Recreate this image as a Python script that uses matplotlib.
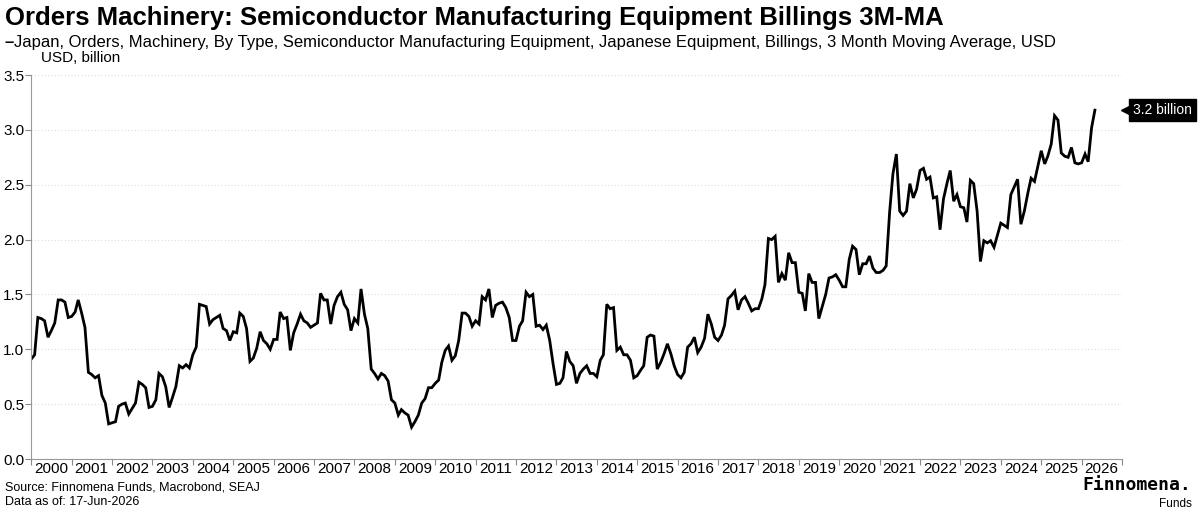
import numpy as np
import pandas as pd
import matplotlib
matplotlib.use("Agg")
from matplotlib import pyplot as plt
import matplotlib.dates as mdates
import matplotlib.transforms as mtransforms

plt.rcParams['font.family'] = ['Liberation Sans', 'DejaVu Sans']

# monthly 3M-MA billings, USD billion, Jan-2000 .. May-2026
v2000 = [0.91, 0.95, 1.29, 1.28, 1.26, 1.11, 1.17, 1.24, 1.45, 1.45, 1.43, 1.29]
v2001 = [1.30, 1.34, 1.45, 1.33, 1.20, 0.79, 0.77, 0.74, 0.76, 0.58, 0.51, 0.32]
v2002 = [0.33, 0.34, 0.48, 0.50, 0.51, 0.41, 0.46, 0.51, 0.70, 0.68, 0.65, 0.47]
v2003 = [0.48, 0.54, 0.78, 0.75, 0.66, 0.47, 0.56, 0.66, 0.85, 0.83, 0.86, 0.83]
v2004 = [0.95, 1.02, 1.41, 1.40, 1.39, 1.23, 1.27, 1.29, 1.31, 1.19, 1.17, 1.08]
v2005 = [1.16, 1.15, 1.33, 1.30, 1.19, 0.89, 0.92, 1.01, 1.16, 1.08, 1.05, 1.00]
v2006 = [1.09, 1.09, 1.34, 1.28, 1.29, 0.99, 1.15, 1.23, 1.32, 1.26, 1.24, 1.20]
v2007 = [1.22, 1.24, 1.51, 1.45, 1.45, 1.23, 1.40, 1.48, 1.52, 1.41, 1.36, 1.17]
v2008 = [1.28, 1.24, 1.55, 1.32, 1.19, 0.82, 0.78, 0.73, 0.78, 0.76, 0.71, 0.54]
v2009 = [0.51, 0.40, 0.45, 0.42, 0.40, 0.29, 0.34, 0.40, 0.51, 0.55, 0.65, 0.65]
v2010 = [0.69, 0.72, 0.88, 0.99, 1.03, 0.90, 0.94, 1.08, 1.33, 1.33, 1.30, 1.21]
v2011 = [1.26, 1.23, 1.48, 1.45, 1.55, 1.29, 1.40, 1.42, 1.43, 1.38, 1.29, 1.08]
v2012 = [1.08, 1.21, 1.26, 1.52, 1.48, 1.50, 1.21, 1.22, 1.18, 1.22, 1.08, 0.87]
v2013 = [0.68, 0.69, 0.74, 0.98, 0.89, 0.85, 0.69, 0.78, 0.82, 0.85, 0.78, 0.78]
v2014 = [0.75, 0.90, 0.95, 1.41, 1.37, 1.38, 0.99, 1.02, 0.95, 0.95, 0.90, 0.74]
v2015 = [0.76, 0.81, 0.85, 1.11, 1.13, 1.12, 0.82, 0.88, 0.96, 1.05, 0.96, 0.85]
v2016 = [0.77, 0.74, 0.79, 1.02, 1.05, 1.11, 0.97, 1.02, 1.10, 1.32, 1.23, 1.11]
v2017 = [1.08, 1.13, 1.22, 1.46, 1.49, 1.53, 1.36, 1.45, 1.48, 1.42, 1.35, 1.37]
v2018 = [1.37, 1.46, 1.59, 2.01, 2.00, 2.03, 1.61, 1.69, 1.63, 1.88, 1.79, 1.79]
v2019 = [1.52, 1.51, 1.35, 1.69, 1.61, 1.61, 1.28, 1.39, 1.50, 1.65, 1.66, 1.68]
v2020 = [1.63, 1.57, 1.57, 1.82, 1.94, 1.91, 1.68, 1.78, 1.78, 1.85, 1.74, 1.70]
v2021 = [1.70, 1.72, 1.76, 2.25, 2.60, 2.78, 2.26, 2.22, 2.26, 2.51, 2.38, 2.46]
v2022 = [2.63, 2.65, 2.55, 2.57, 2.38, 2.39, 2.09, 2.37, 2.51, 2.63, 2.35, 2.41]
v2023 = [2.30, 2.29, 2.16, 2.54, 2.51, 2.26, 1.80, 1.99, 1.97, 1.99, 1.93, 2.04]
v2024 = [2.15, 2.13, 2.11, 2.41, 2.48, 2.55, 2.14, 2.26, 2.42, 2.56, 2.53, 2.67]
v2025 = [2.81, 2.69, 2.76, 2.87, 3.13, 3.09, 2.79, 2.76, 2.75, 2.84, 2.70, 2.69]
v2026 = [2.70, 2.78, 2.71, 3.02, 3.18]

values = (v2000 + v2001 + v2002 + v2003 + v2004 + v2005 + v2006 + v2007 + v2008
          + v2009 + v2010 + v2011 + v2012 + v2013 + v2014 + v2015 + v2016
          + v2017 + v2018 + v2019 + v2020 + v2021 + v2022 + v2023 + v2024
          + v2025 + v2026)
dates = pd.date_range("2000-01-01", periods=len(values), freq="MS")

title = "Orders Machinery: Semiconductor Manufacturing Equipment Billings 3M-MA"
series_name = ("Japan, Orders, Machinery, By Type, Semiconductor Manufacturing Equipment, "
               "Japanese Equipment, Billings, 3 Month Moving Average, USD")
last_label = "3.2 billion"

fig = plt.figure(figsize=(12, 5.14), dpi=100)
ax = fig.add_axes([0.026, 0.107, 0.909, 0.747])

ax.plot(dates, values, color="black", lw=2.0, solid_joinstyle="miter")

ax.set_ylim(0, 3.5)
ax.set_yticks(np.arange(0, 3.51, 0.5))
ax.set_yticklabels([f"{t:.1f}" for t in np.arange(0, 3.51, 0.5)])
ax.set_xlim(pd.Timestamp("2000-01-01"), pd.Timestamp("2027-01-01"))

ax.xaxis.set_major_locator(mdates.YearLocator())
ax.xaxis.set_major_formatter(plt.NullFormatter())
ax.xaxis.set_minor_locator(mdates.MonthLocator(bymonth=7, bymonthday=1))
ax.xaxis.set_minor_formatter(mdates.DateFormatter("%Y"))
ax.tick_params(axis="x", which="major", length=4, color="#888888")
ax.tick_params(axis="x", which="minor", length=0, labelsize=11, pad=2)
ax.tick_params(axis="y", length=4, color="#888888", labelsize=11, pad=1)

ax.grid(axis="y", color="#dddddd", linestyle=(0, (1, 2)), lw=0.8)
ax.set_axisbelow(True)
for s in ["top", "right"]:
    ax.spines[s].set_visible(False)
for s in ["left", "bottom"]:
    ax.spines[s].set_color("#999999")

# last value tag
trans = mtransforms.blended_transform_factory(ax.transAxes, ax.transData)
ax.plot([1.004], [values[-1]], marker="<", color="black", ms=7,
        transform=trans, clip_on=False)
ax.text(1.01, values[-1], last_label, transform=trans, color="white",
        fontsize=10, va="center", ha="left",
        bbox=dict(boxstyle="square,pad=0.3", fc="black", ec="black"))

fig.text(0.004, 0.988, title, fontsize=18.5, fontweight="bold", va="top", ha="left")
fig.text(0.004, 0.918, "\u2013", fontsize=12, fontweight="bold", va="center", ha="left")
fig.text(0.012, 0.918, series_name, fontsize=12, va="center", ha="left")
fig.text(0.034, 0.887, "USD, billion", fontsize=11, va="center", ha="left")

fig.text(0.004, 0.04, "Source: Finnomena Funds, Macrobond, SEAJ", fontsize=9, va="bottom")
fig.text(0.004, 0.012, "Data as of: 17-Jun-2026", fontsize=9, va="bottom")
fig.text(0.993, 0.038, "Finnomena.", fontsize=13, fontweight="bold",
         family="DejaVu Sans Mono", va="bottom", ha="right")
fig.text(0.993, 0.008, "Funds", fontsize=8.5, va="bottom", ha="right")

fig.savefig("out.png", dpi=100)
